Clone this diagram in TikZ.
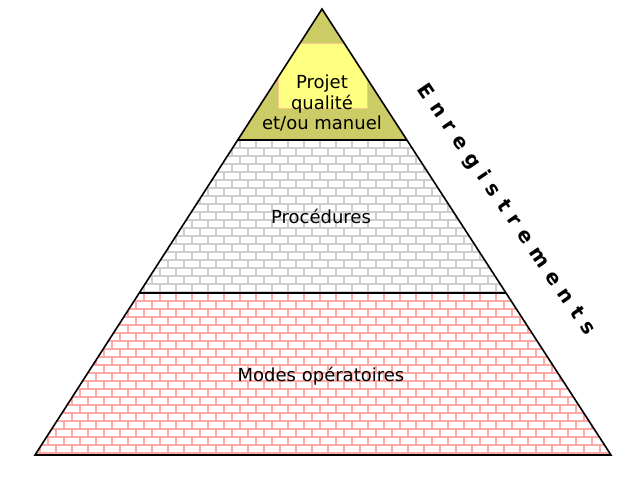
\documentclass[tikz,border=0pt]{standalone}
\usepackage{fontspec}
\setmainfont{DejaVu Sans}
\newfontfamily\stampfont[LetterSpace=40]{DejaVu Sans}
\usetikzlibrary{calc}

\definecolor{tipolive}{RGB}{204,204,102}
\definecolor{tipyellow}{RGB}{255,255,128}
\definecolor{brickpink}{RGB}{255,168,168}
\definecolor{brickgray}{RGB}{206,206,206}

\tikzset{
  tiertext/.style={font=\fontsize{18}{20.5}\selectfont, align=center},
  edge/.style={draw=black, line width=1.6pt},
  mortar/.style={line width=1.4pt}
}

\begin{document}
\begin{tikzpicture}[x=1pt,y=-1pt]
		\useasboundingbox (0,0) rectangle (625,478);
		\coordinate (apex) at (322,9);
		\coordinate (bl) at (35,455);
		\coordinate (br) at (611,455);
		\coordinate (gl) at ($(apex)!0.2937!(bl)$);
		\coordinate (gr) at ($(apex)!0.2937!(br)$);
		\coordinate (pl) at ($(apex)!0.6368!(bl)$);
		\coordinate (pr) at ($(apex)!0.6368!(br)$);
		
		% bricks, gray
		\begin{scope}
		\clip (gl) -- (gr) -- (pr) -- (pl) -- cycle;
		\foreach \r in {0,...,19} {
			\pgfmathsetmacro\y{140+8*\r}
			\pgfmathsetmacro\off{mod(\r,2)*8}
			\draw[mortar, brickgray] (0,\y) -- (625,\y);
			\foreach \c in {0,...,39}
				\draw[mortar, brickgray] (\off+16*\c,\y) -- ++(0,8);
		}
		\end{scope}
		
		% bricks, pink
		\begin{scope}
		\clip (pl) -- (pr) -- (br) -- (bl) -- cycle;
		\foreach \r in {0,...,20} {
			\pgfmathsetmacro\y{293+8*\r}
			\pgfmathsetmacro\off{mod(\r,2)*8}
			\draw[mortar, brickpink] (0,\y) -- (625,\y);
			\foreach \c in {0,...,39}
				\draw[mortar, brickpink] (\off+16*\c,\y) -- ++(0,8);
		}
		\end{scope}
		
		% top
		\begin{scope}
		\clip (apex) -- (gr) -- (gl) -- cycle;
		\fill[tipolive] (apex) -- (gr) -- (gl) -- cycle;
		\draw[orange!45, fill=tipyellow] (278,43) rectangle (367,108);
		\end{scope}
		
		\draw[edge] (apex) -- (br) -- (bl) -- cycle;
		\draw[edge] (gl) -- (gr);
		\draw[edge] (pl) -- (pr);
		
		\node[tiertext] (projet) at (322,103) {Projet\\qualité\\et/ou manuel};
		\node[tiertext] (procedures) at (321,216) {Procédures};
		\node[tiertext] (modes) at (321,376) {Modes opératoires};
		\node[rotate=-55.6, font=\stampfont\bfseries\fontsize{20}{22}\selectfont] (enreg) at (506,210) {Enregistrements};
	\end{tikzpicture}
\end{document}
